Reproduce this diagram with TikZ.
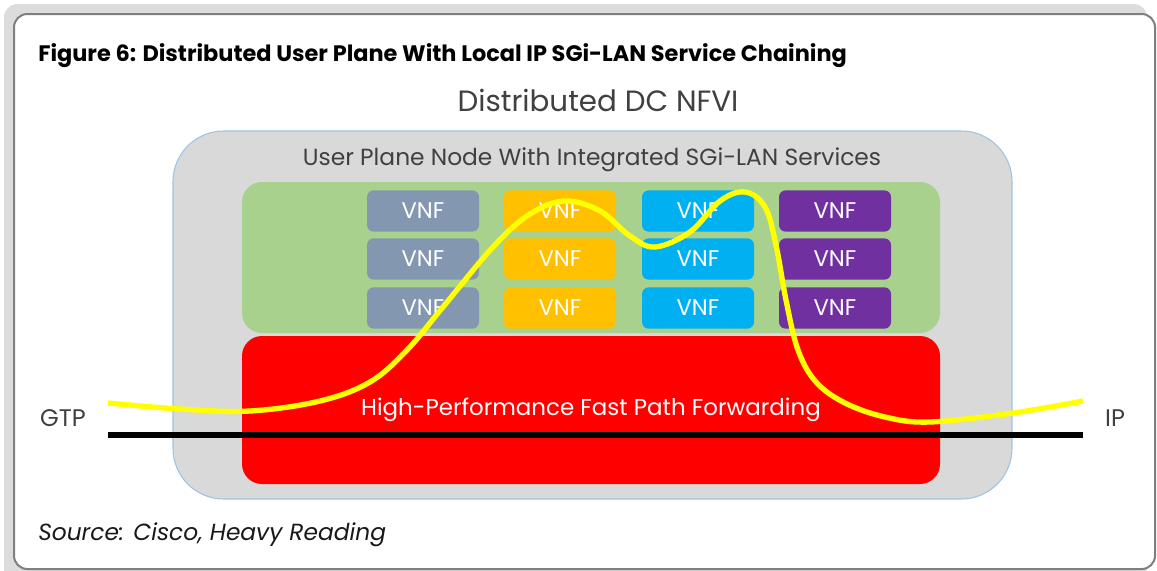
\documentclass[tikz,border=0pt]{standalone}
\usepackage{fontspec}
\setmainfont{Poppins}
\begin{document}
\begin{tikzpicture}[x=0.75pt,y=-0.75pt,
  vnf/.style={rounded corners=5pt, minimum width=84pt, minimum height=31pt, inner sep=0pt,
    text=white, font=\fontsize{17}{17}\selectfont},
  lbl/.style={text=black!75, inner sep=0pt},
]
\definecolor{frameshadow}{HTML}{DCDCDC}
\definecolor{frameline}{HTML}{7F7F7F}
\definecolor{dcgray}{HTML}{D9D9D9}
\definecolor{dcedge}{HTML}{9DC3E6}
\definecolor{vgreen}{HTML}{A9D18E}
\definecolor{vslate}{HTML}{8497B0}
\definecolor{vorange}{HTML}{FFC000}
\definecolor{vblue}{HTML}{00B0F0}
\definecolor{vpurple}{HTML}{7030A0}
\definecolor{pathyellow}{HTML}{FFFF00}
\useasboundingbox (0,0) rectangle (1157,571);
% outer frame
\fill[frameshadow, rounded corners=10pt] (4,4) rectangle (1147,590);
\draw[frameline, line width=1.5pt, fill=white, rounded corners=10pt] (14,14) rectangle (1155,569);
\node[anchor=base west, inner sep=0pt, font=\bfseries\fontsize{16.8}{16.8}\selectfont] (title) at (38,61)
  {Figure 6: Distributed User Plane With Local IP SGi-LAN Service Chaining};
\node[lbl, font=\fontsize{22}{22}\selectfont] (nfvi) at (598,100) {Distributed DC NFVI};
% data centre
\draw[dcedge, fill=dcgray, line width=0.8pt, rounded corners=38pt] (173,131) rectangle (1012,499);
\node[lbl, font=\fontsize{17.5}{17.5}\selectfont] (upn) at (592,160) {User Plane Node With Integrated SGi-LAN Services};
\fill[vgreen, rounded corners=15pt] (242,182) rectangle (940,333);
\fill[red, rounded corners=15pt] (242,336) rectangle (940,484);
% VNF grid
\foreach \c/\x in {vslate/423, vorange/560, vblue/698, vpurple/835}{
  \foreach \r/\y in {1/211, 2/259, 3/308}{
    \node[vnf, fill=\c] (vnf-\c-\r) at (\x,\y) {VNF};
  }
}
\node[text=white, inner sep=0pt, font=\fontsize{17.2}{17.2}\selectfont] (fpf) at (591,410) {High-Performance Fast Path Forwarding};
% end points
\node[lbl, font=\fontsize{18}{18}\selectfont] (gtp) at (63,418) {GTP};
\node[lbl, font=\fontsize{18}{18}\selectfont] (ip) at (1115,418) {IP};
\coordinate (lineL) at (108,435);
\coordinate (lineR) at (1083,435);
\draw[black, line width=4.5pt] (lineL) -- (lineR);
% service chain path
\draw[pathyellow, line width=4pt, line cap=butt] plot[smooth, tension=0.6] coordinates {
  (108,403) (180,409) (250,411) (320,401) (370,382) (407,350) (443,307) (493,247)
  (530,214) (565,201) (600,211) (630,236) (655,247) (690,232) (720,201) (745,192)
  (765,207) (776,245) (786,300) (798,350) (816,382) (845,403) (885,417) (930,422)
  (1013,413) (1083,401)};
\node[anchor=base west, inner sep=0pt, text=black!90, font=\itshape\fontsize{17.5}{17.5}\selectfont] (src) at (38,540) {Source: Cisco, Heavy Reading};
\end{tikzpicture}
\end{document}
